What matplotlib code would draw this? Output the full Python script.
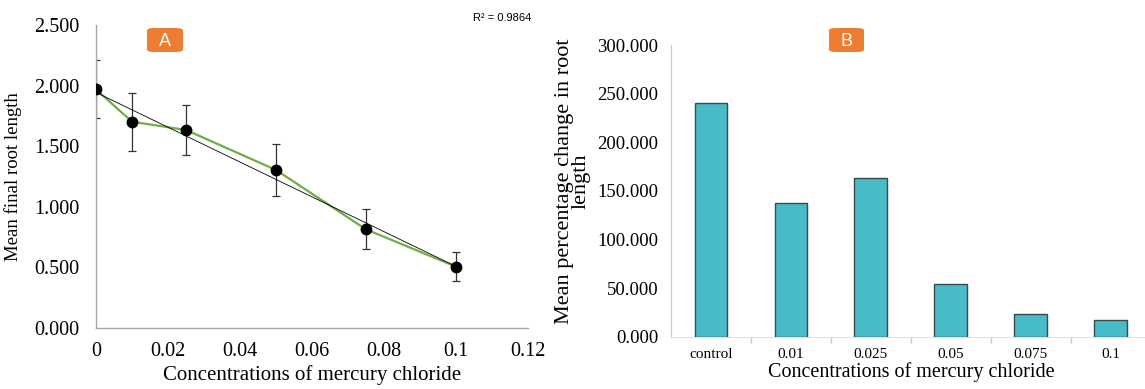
import matplotlib.pyplot as plt
import numpy as np
from matplotlib.patches import FancyBboxPatch

# panel A: mean final root length vs concentration
conc = [0, 0.01, 0.025, 0.05, 0.075, 0.1]
root_len = [1.969, 1.702, 1.634, 1.304, 0.814, 0.506]
root_err = [0.238, 0.240, 0.207, 0.213, 0.165, 0.118]
y_ticks_a = [0.0, 0.5, 1.0, 1.5, 2.0, 2.5]
x_ticks_a = [0, 0.02, 0.04, 0.06, 0.08, 0.1, 0.12]
x_labels_a = ['0', '0.02', '0.04', '0.06', '0.08', '0.1', '0.12']

# panel B: mean percentage change in root length
categories = ['control', '0.01', '0.025', '0.05', '0.075', '0.1']
pct_change = [240.7, 137.7, 163.7, 54.8, 23.3, 17.1]
y_ticks_b = [0, 50, 100, 150, 200, 250, 300]

serif = 'Liberation Serif'
sans = 'Liberation Sans'
orange = '#ED7D31'

fig = plt.figure(figsize=(11.45, 3.89), dpi=100)


def panel_tag(fig, x0, y0, w, h, letter):
    # orange rounded label box, placed in figure fractions
    fig.patches.append(FancyBboxPatch((x0, y0), w, h, boxstyle='round,pad=0,rounding_size=0.006',
                                      transform=fig.transFigure, fc=orange, ec='none'))
    fig.text(x0 + w / 2, y0 + h / 2 - 0.003, letter, family=sans, fontsize=13, color='white',
             ha='center', va='center')


# ---- Panel A ----
ax = fig.add_axes([0.0838, 0.1568, 0.3773, 0.779])
ax.errorbar(conc, root_len, yerr=root_err, fmt='none', ecolor='#333333',
            elinewidth=0.9, capsize=3, capthick=0.9, zorder=2)
ax.plot(conc, root_len, color='#70AD47', lw=1.6, zorder=3)
slope, inter = np.polyfit(conc, root_len, 1)
xfit = np.array([conc[0], conc[-1]])
ax.plot(xfit, slope * xfit + inter, color='black', lw=0.6, zorder=4)
ax.plot(conc, root_len, 'o', color='black', ms=7.5, zorder=5)

ax.set_xlim(0, 0.12)
ax.set_ylim(0, 2.5)
ax.set_xticks(x_ticks_a)
ax.set_xticklabels(x_labels_a)
ax.set_yticks(y_ticks_a)
ax.set_yticklabels([f'{v:.3f}' for v in y_ticks_a])
for s in ['top', 'right']:
    ax.spines[s].set_visible(False)
for s in ['left', 'bottom']:
    ax.spines[s].set_color('#A6A6A6')
    ax.spines[s].set_linewidth(1.0)
ax.tick_params(length=0, labelsize=14.5)
ax.tick_params(axis='y', pad=12)
ax.tick_params(axis='x', pad=10)
for lbl in ax.get_xticklabels() + ax.get_yticklabels():
    lbl.set_family(serif)
ax.set_xlabel('Concentrations of mercury chloride', family=serif, fontsize=15, labelpad=3)
ax.set_ylabel('Mean final root length', family=serif, fontsize=13.5, labelpad=9)
ax.text(0.1047, 2.56, 'R² = 0.9864', family=sans, fontsize=8, ha='left', va='center')
panel_tag(fig, 0.1284, 0.8663, 0.0314, 0.0617, 'A')

# ---- Panel B ----
bx = fig.add_axes([0.586, 0.1337, 0.419, 0.7506])
pos = np.arange(len(categories))
bx.bar(pos, pct_change, width=0.41, color='#47BCC6', edgecolor='#3A4A4C', linewidth=1.0, zorder=3)
bx.set_xlim(-0.5, len(categories) - 0.5)
bx.set_ylim(0, 300)
bx.set_yticks(y_ticks_b)
bx.set_yticklabels([f'{v:.3f}' for v in y_ticks_b])
bx.set_xticks(pos)
bx.set_xticklabels(categories)
bx.set_xticks(np.arange(0.5, len(categories) - 0.5), minor=True)
for s in ['top', 'right']:
    bx.spines[s].set_visible(False)
bx.spines['left'].set_color('#C8C8C8')
bx.spines['bottom'].set_color('#E0E0E0')
bx.tick_params(axis='y', length=0, labelsize=13.5, pad=9)
bx.tick_params(axis='x', which='major', length=0, labelsize=11, pad=8)
bx.tick_params(axis='x', which='minor', length=4, color='#C8C8C8', width=1)
for lbl in bx.get_xticklabels() + bx.get_yticklabels():
    lbl.set_family(serif)
bx.set_xlabel('Concentrations of mercury chloride', family=serif, fontsize=14.5, labelpad=1)
bx.set_ylabel('Mean percentage change in root\nlength', family=serif, fontsize=16,
              linespacing=0.8)
bx.yaxis.set_label_coords(-0.168, 0.535)
panel_tag(fig, 0.724, 0.8663, 0.0306, 0.0617, 'B')

fig.savefig('out.png', dpi=100)
